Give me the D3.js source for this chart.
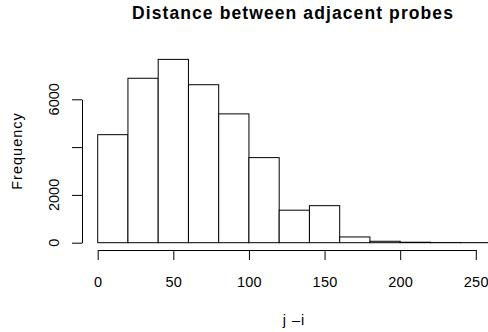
<!DOCTYPE html>
<html>
<head>
<meta charset="utf-8">
<script src="https://cdn.jsdelivr.net/npm/d3@7"></script>
<style>
  body { margin: 0; background: #fff; }
  text { font-family: "Liberation Sans", Arial, Helvetica, sans-serif; fill: #000; }
</style>
</head>
<body>
<div id="chart"></div>
<script>
// histogram bins (lower edges, width 20) and their counts
const binStarts = [0, 20, 40, 60, 80, 100, 120, 140, 160, 180, 200, 220, 240];
const binWidth = 20;
const counts = [4520, 6880, 7670, 6610, 5390, 3560, 1360, 1550, 240, 60, 20, 6, 3];
const xTicks = [0, 50, 100, 150, 200, 250];
const yTicks = [0, 2000, 4000, 6000];
const yLabels = [0, 2000, 6000]; // R drops 4000 where labels collide

const width = 488, height = 332;

const svg = d3.select('#chart')
  .append('svg')
  .attr('width', width)
  .attr('height', height);

// scales
const x = d3.scaleLinear().domain([0, 250]).range([97.7, 475.8]);
const y = d3.scaleLinear().domain([0, 6000]).range([242.7, 99.3]);

// bars
svg.selectAll('.bar')
  .data(binStarts.map((b, i) => ({ x0: b, x1: b + binWidth, n: counts[i] })))
  .enter()
  .append('rect')
  .attr('class', 'bar')
  .attr('x', d => x(d.x0))
  .attr('y', d => y(d.n))
  .attr('width', d => x(d.x1) - x(d.x0))
  .attr('height', d => y(0) - y(d.n))
  .attr('fill', '#fff')
  .attr('stroke', '#000')
  .attr('stroke-width', 1);

// x axis
const xAxis = svg.append('g')
  .attr('transform', 'translate(0,250)')
  .call(d3.axisBottom(x).tickValues(xTicks).tickSize(10).tickPadding(17).tickSizeOuter(0));
xAxis.select('.domain').attr('stroke', '#000');
xAxis.selectAll('text').style('font-size', '14.5px').style('letter-spacing', '0.3px');

// y axis
const yAxis = svg.append('g')
  .attr('transform', 'translate(82,0)')
  .call(d3.axisLeft(y).tickValues(yTicks).tickSize(10).tickSizeOuter(0).tickFormat(''));
yAxis.select('.domain').attr('stroke', '#000');

svg.selectAll('.ylab')
  .data(yLabels)
  .enter()
  .append('text')
  .attr('class', 'ylab')
  .attr('transform', d => `translate(58.5,${y(d)}) rotate(-90)`)
  .style('text-anchor', 'middle')
  .style('font-size', '14.5px')
  .text(d => d);

// title
svg.append('text')
  .attr('x', 293)
  .attr('y', 19)
  .style('text-anchor', 'middle')
  .style('font-size', '17.5px')
  .style('font-weight', 'bold')
  .style('letter-spacing', '1.1px')
  .text('Distance between adjacent probes');

// axis titles
svg.append('text')
  .attr('x', 294)
  .attr('y', 325)
  .style('text-anchor', 'middle')
  .style('font-size', '14.5px')
  .style('letter-spacing', '1px')
  .text('j \u2013i');

svg.append('text')
  .attr('transform', 'translate(22,151) rotate(-90)')
  .style('text-anchor', 'middle')
  .style('font-size', '14.5px')
  .style('letter-spacing', '1px')
  .text('Frequency');
</script>
</body>
</html>
